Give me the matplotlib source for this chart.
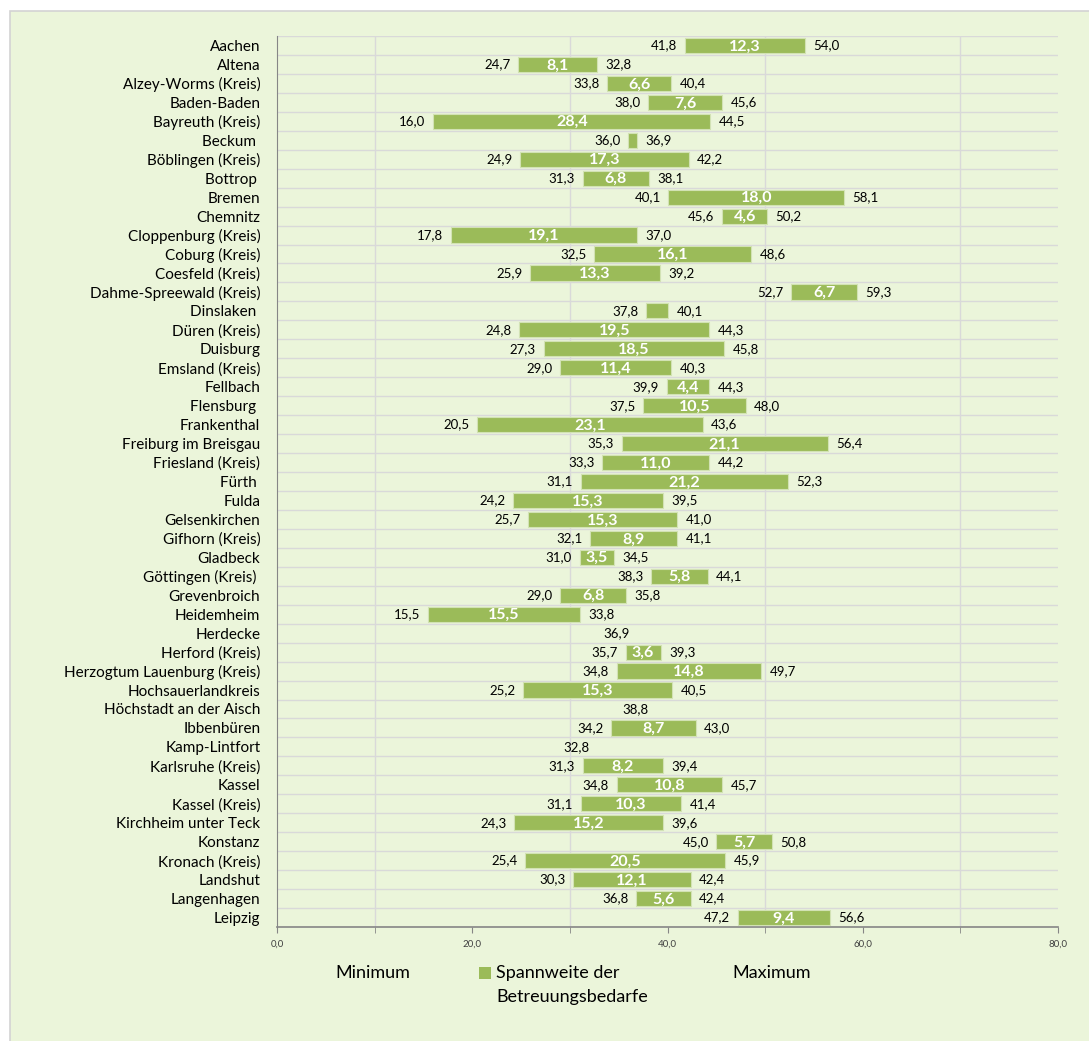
import matplotlib
matplotlib.use('Agg')
import matplotlib.pyplot as plt
from matplotlib.patches import Rectangle
import numpy as np

plt.rcParams['font.family'] = ['Lato', 'DejaVu Sans']

categories = [
    "Aachen", "Altena", "Alzey-Worms (Kreis)", "Baden-Baden", "Bayreuth (Kreis)",
    "Beckum ", "Böblingen (Kreis)", "Bottrop ", "Bremen", "Chemnitz",
    "Cloppenburg (Kreis)", "Coburg (Kreis)", "Coesfeld (Kreis)", "Dahme-Spreewald (Kreis)",
    "Dinslaken ", "Düren (Kreis)", "Duisburg", "Emsland (Kreis)", "Fellbach", "Flensburg ",
    "Frankenthal", "Freiburg im Breisgau", "Friesland (Kreis)", "Fürth ", "Fulda",
    "Gelsenkirchen", "Gifhorn (Kreis)", "Gladbeck", "Göttingen (Kreis) ", "Grevenbroich",
    "Heidemheim", "Herdecke", "Herford (Kreis)", "Herzogtum Lauenburg (Kreis)",
    "Hochsauerlandkreis", "Höchstadt an der Aisch", "Ibbenbüren", "Kamp-Lintfort",
    "Karlsruhe (Kreis)", "Kassel", "Kassel (Kreis)", "Kirchheim unter Teck", "Konstanz",
    "Kronach (Kreis)", "Landshut", "Langenhagen", "Leipzig",
]
nan = np.nan
minimum = [41.8, 24.7, 33.8, 38.0, 16.0, 36.0, 24.9, 31.3, 40.1, 45.6,
           17.8, 32.5, 25.9, 52.7, 37.8, 24.8, 27.3, 29.0, 39.9, 37.5,
           20.5, 35.3, 33.3, 31.1, 24.2, 25.7, 32.1, 31.0, 38.3, 29.0,
           15.5, 36.9, 35.7, 34.8, 25.2, 38.8, 34.2, 32.8, 31.3, 34.8,
           31.1, 24.3, 45.0, 25.4, 30.3, 36.8, 47.2]
spannweite = [12.3, 8.1, 6.6, 7.6, 28.4, 0.9, 17.3, 6.8, 18.0, 4.6,
              19.1, 16.1, 13.3, 6.7, 2.3, 19.5, 18.5, 11.4, 4.4, 10.5,
              23.1, 21.1, 11.0, 21.2, 15.3, 15.3, 8.9, 3.5, 5.8, 6.8,
              15.5, nan, 3.6, 14.8, 15.3, nan, 8.7, nan, 8.2, 10.8,
              10.3, 15.2, 5.7, 20.5, 12.1, 5.6, 9.4]
maximum = [54.0, 32.8, 40.4, 45.6, 44.5, 36.9, 42.2, 38.1, 58.1, 50.2,
           37.0, 48.6, 39.2, 59.3, 40.1, 44.3, 45.8, 40.3, 44.3, 48.0,
           43.6, 56.4, 44.2, 52.3, 39.5, 41.0, 41.1, 34.5, 44.1, 35.8,
           33.8, nan, 39.3, 49.7, 40.5, nan, 43.0, nan, 39.4, 45.7,
           41.4, 39.6, 50.8, 45.9, 42.4, 42.4, 56.6]
x_ticks = [0, 20, 40, 60, 80]

def de(v):
    return f"{v:.1f}".replace('.', ',')

W, H = 1089, 1041
BG = '#EBF5DA'
BAR = '#9BBB59'
fig = plt.figure(figsize=(W / 100, H / 100), dpi=100)
fig.patch.set_facecolor('white')
panel = Rectangle((10 / W, -0.01), 1.0, 1 - 11 / H + 0.01, transform=fig.transFigure,
                  facecolor=BG, edgecolor='#D3D3D3', lw=1.2, zorder=-10)
fig.patches.append(panel)

ax = fig.add_axes([277 / W, 1 - 927 / H, 781 / W, 891 / H])
ax.set_zorder(1)
ax.set_facecolor(BG)
n = len(categories)
y = np.arange(n)
ax.set_xlim(0, 80)
ax.set_ylim(n - 0.5, -0.5)

mins = np.array(minimum, dtype=float)
rngs = np.array(spannweite, dtype=float)
maxs = np.array(maximum, dtype=float)
has = ~np.isnan(rngs)
ax.barh(y[has], rngs[has], left=mins[has], height=0.8, color=BAR,
        edgecolor='#D2E2B4', linewidth=0.8, zorder=3)

for i in range(n):
    ax.annotate(de(mins[i]), (mins[i], y[i]), xytext=(-5.5, 0), textcoords='offset points',
                ha='right', va='center', fontsize=9.5, color='#000000', zorder=4)
    if not np.isnan(maxs[i]):
        bar_end = mins[i] + rngs[i]
        ax.annotate(de(maxs[i]), (bar_end, y[i]), xytext=(6, 0), textcoords='offset points',
                    ha='left', va='center', fontsize=9.5, color='#000000', zorder=4)
    if has[i] and rngs[i] >= 3:
        ax.text(mins[i] + rngs[i] / 2, y[i] + 0.05, de(rngs[i]), ha='center', va='center',
                fontsize=11.5, fontweight='bold', color='white', zorder=4)

ax.set_yticks(y)
ax.set_yticklabels(categories, fontsize=11, color='#000000')
ax.set_yticks(np.arange(-0.5, n, 1), minor=True)
ax.tick_params(axis='y', which='major', length=0, pad=12)
ax.tick_params(axis='y', which='minor', length=0)

ax.set_xticks(x_ticks)
ax.set_xticklabels([de(v) for v in x_ticks], fontsize=7, color='#404040')
ax.set_xticks(np.arange(0, 81, 10), minor=True)
ax.tick_params(axis='x', which='both', length=4, color='#868686', pad=5, direction='out')

ax.grid(True, which='minor', axis='both', color='#D9D9D9', linewidth=1.0, zorder=0)
ax.grid(False, which='major')
ax.set_axisbelow(True)
for s in ['top', 'right']:
    ax.spines[s].set_visible(False)
ax.spines['left'].set_color('#868686')
ax.spines['bottom'].set_color('#868686')
ax.spines['bottom'].set_linewidth(1.2)

# legend
LF = 13
fig.text(335 / W, 1 - 973 / H, "Minimum", fontsize=LF, ha='left', va='center', color='#000000')
fig.patches.append(Rectangle((479 / W, 1 - 979 / H), 12 / W, 12 / H, transform=fig.transFigure,
                             facecolor=BAR, edgecolor='none'))
fig.text(496 / W, 1 - 973 / H, "Spannweite der", fontsize=LF, ha='left', va='center', color='#000000')
fig.text(496 / W, 1 - 997 / H, "Betreuungsbedarfe", fontsize=LF, ha='left', va='center', color='#000000')
fig.text(732 / W, 1 - 973 / H, "Maximum", fontsize=LF, ha='left', va='center', color='#000000')

fig.savefig('out.png', dpi=100, facecolor=fig.get_facecolor())
